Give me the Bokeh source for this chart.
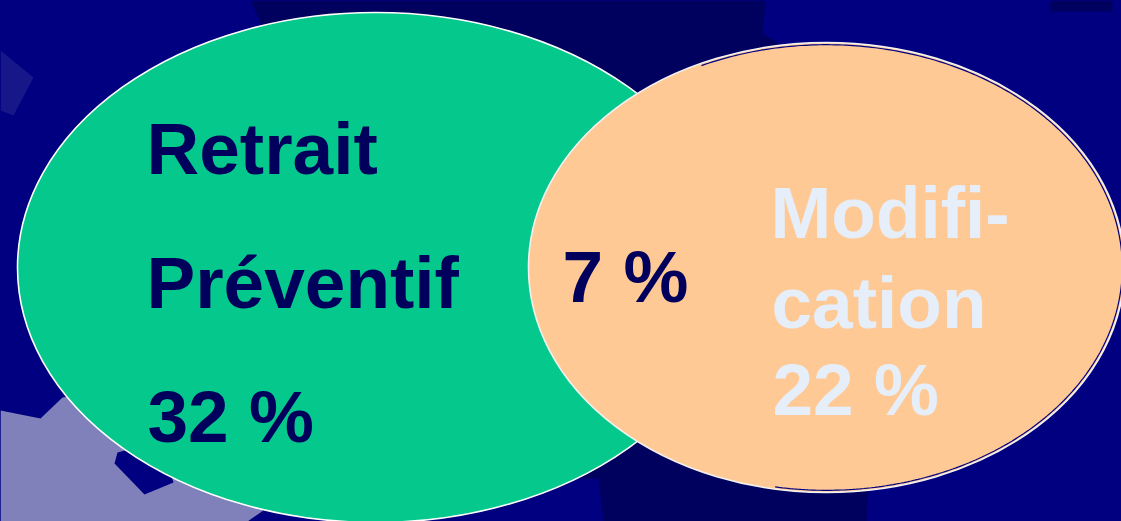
import numpy as np
from bokeh.plotting import figure
from bokeh.models import Range1d
from bokeh.core.properties import value
from bokeh.embed import file_html
from bokeh.resources import INLINE

# ---------------- data ----------------
set_names = ["Retrait Préventif", "Modification"]
set_label_lines = [["Retrait", "Préventif"], ["Modifi-", "cation"]]
exclusive_share = [32, 22]     # % belonging only to each set
overlap_share = 7              # % belonging to both sets

# ---------------- layout / style ----------------
W, H = 1121, 521
NAVY = "#000080"
DARK = "#00005e"
GREEN = "#05c88c"
PEACH = "#fec995"
TXT_DARK = "#00005c"
TXT_LIGHT = "#e6eef9"
FONT = value("Liberation Sans")
FS = "73px"

# ellipse geometry (centre x, centre y, full width, full height) in page pixels
ell = {
    "Retrait Préventif": (375, 267, 716, 510),
    "Modification": (826, 267, 596, 450),
}

p = figure(width=W, height=H, x_range=Range1d(0, W), y_range=Range1d(H, 0),
           output_backend="svg", toolbar_location=None, min_border=0,
           background_fill_color=NAVY, border_fill_color=NAVY,
           outline_line_color=None)
p.axis.visible = False
p.grid.visible = False

# decorative background shapes
bg_xs = [
    [250, 765, 762, 790, 826, 868, 866, 450, 375],
    [450, 598, 603, 450],
    [0, 40, 62, 200, 300, 260, 247, 0],
    [117, 160, 173, 144, 114],
    [0, 33, 13, 0],
    [1050, 1112, 1112, 1050],
]
bg_ys = [
    [0, 0, 33, 50, 267, 490, 521, 521, 267],
    [478, 478, 521, 521],
    [410, 418, 397, 380, 480, 512, 521, 521],
    [452, 440, 482, 494, 463],
    [50, 77, 115, 110],
    [0, 0, 11, 11],
]
bg_col = [DARK, NAVY, "#8080bb", NAVY, "#17178a", DARK]
p.patches(bg_xs, bg_ys, fill_color=bg_col, line_color=None)

# the two sets
for name, fill, lc in zip(set_names, [GREEN, PEACH], ["#ffffff", "#f2f2f2"]):
    cx, cy, w, h = ell[name]
    p.ellipse(x=[cx], y=[cy], width=[w], height=[h], fill_color=fill,
              line_color=lc, line_width=1.6)

# thin dark inner rim on the right side of the second set
cx, cy, w, h = ell["Modification"]
t = np.linspace(np.deg2rad(-100), np.deg2rad(115), 300)
p.line(cx + (w / 2 - 2.2) * np.cos(t), cy - (h / 2 - 2.2) * np.sin(t),
       line_color=NAVY, line_width=1.2)

# labels
left_lines = set_label_lines[0] + [f"{exclusive_share[0]} %"]
right_lines = set_label_lines[1] + [f"{exclusive_share[1]} %"]
p.text(x=[146, 146, 147], y=[148, 282, 416], text=left_lines,
       text_font=FONT, text_font_style="bold", text_font_size=FS,
       text_color=TXT_DARK, text_baseline="alphabetic", text_align="left")
p.text(x=[562], y=[276], text=[f"{overlap_share} %"],
       text_font=FONT, text_font_style="bold", text_font_size=FS,
       text_color=TXT_DARK, text_baseline="alphabetic", text_align="left")
p.text(x=[770, 771, 772], y=[212, 302, 389], text=right_lines,
       text_font=FONT, text_font_style="bold", text_font_size=FS,
       text_color=TXT_LIGHT, text_baseline="alphabetic", text_align="left")

html = file_html(p, INLINE)
html = html.replace("</head>", "<style>html,body{margin:0;padding:0;overflow:hidden;background:#000080}</style></head>")
open("out.html", "w").write(html)
